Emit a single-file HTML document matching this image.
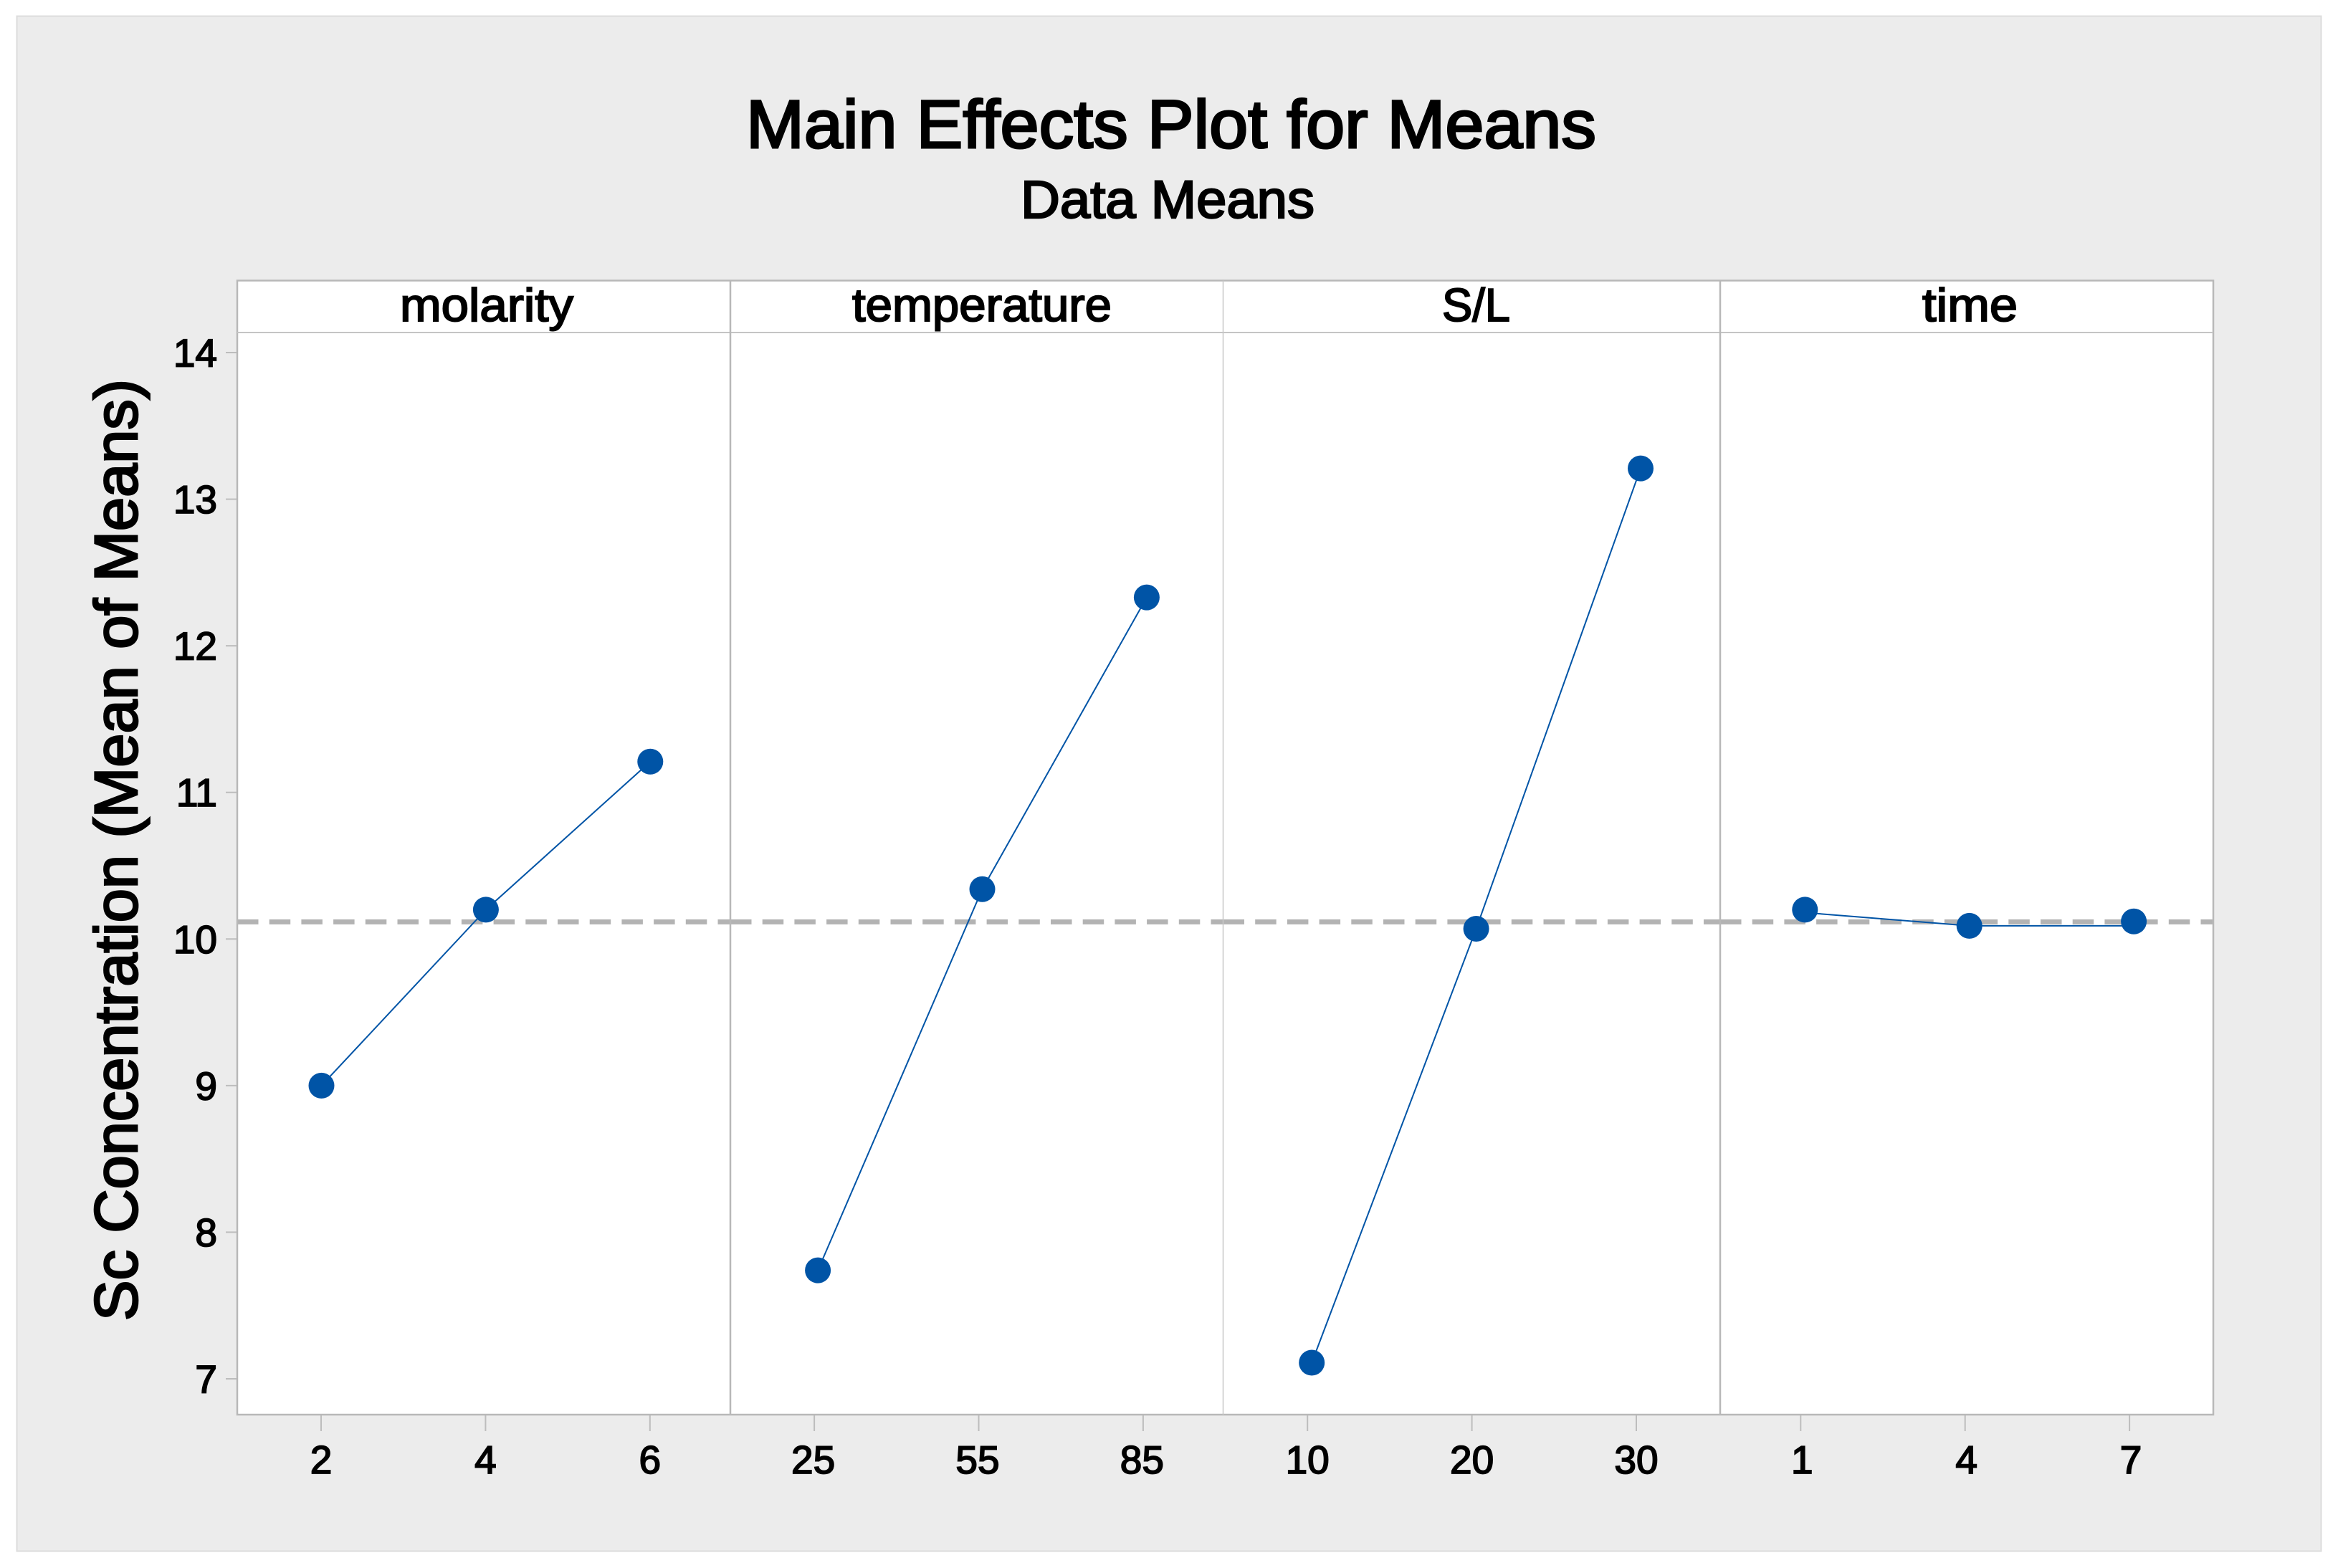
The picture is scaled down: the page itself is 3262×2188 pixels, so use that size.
<!DOCTYPE html>
<html lang="en">
<head>
<meta charset="utf-8">
<title>Main Effects Plot for Means</title>
<style>
html,body{margin:0;padding:0;background:#fff;}
svg{display:block;}
text{font-family:"Liberation Sans",Arial,sans-serif;fill:#000;stroke:#000;stroke-width:1.8;paint-order:stroke;}
#chart-title-text{stroke-width:3;}
#chart-subtitle-text{stroke-width:2.4;}
#y-title-text{stroke-width:2.8;}
#strips text{stroke-width:2;}
</style>
</head>
<body>
<svg id="chart" xmlns="http://www.w3.org/2000/svg" width="3262" height="2188" viewBox="0 0 3262 2188">
  <rect x="0" y="0" width="3262" height="2188" fill="#ffffff"/>
  <rect x="23.5" y="22.5" width="3215" height="2142" fill="#ececec" stroke="#dcdcdc" stroke-width="2"/>
  <rect x="331" y="391.5" width="2757" height="1582.5" fill="#ffffff"/>
  <text id="chart-title-text" x="1041" y="206" font-size="95" textLength="1186" lengthAdjust="spacingAndGlyphs">Main Effects Plot for Means</text>
  <text id="chart-subtitle-text" x="1424" y="304" font-size="74" textLength="410" lengthAdjust="spacingAndGlyphs">Data Means</text>
  <text id="y-title-text" transform="translate(191 1843) rotate(-90)" x="0" y="0" font-size="84" textLength="1314" lengthAdjust="spacingAndGlyphs">Sc Concentration (Mean of Means)</text>
  <g id="y-axis"></g>
  <g id="x-axis"></g>
  <g id="strips"></g>
  <g id="reference"></g>
  <g id="frame"></g>
  <g id="series"></g>
</svg>
<script>
// Data
const factorNames = ['molarity', 'temperature', 'S/L', 'time'];
const molarityLevels = ['2', '4', '6'];
const temperatureLevels = ['25', '55', '85'];
const solidLiquidLevels = ['10', '20', '30'];
const timeLevels = ['1', '4', '7'];
const molarityMeans = [9.0, 10.2, 11.21];
const temperatureMeans = [7.74, 10.34, 12.33];
const solidLiquidMeans = [7.11, 10.07, 13.21];
const timeMeans = [10.2, 10.09, 10.12];
const timeConnectingLine = [10.18, 10.09, 10.09];
const yTickValues = [7, 8, 9, 10, 11, 12, 13, 14];
const overallMean = 10.117;

const allLevels = [molarityLevels, temperatureLevels, solidLiquidLevels, timeLevels];
const allMeans = [molarityMeans, temperatureMeans, solidLiquidMeans, timeMeans];
const allLines = [molarityMeans, temperatureMeans, solidLiquidMeans, timeConnectingLine];

// Layout
const NS = 'http://www.w3.org/2000/svg';
const plotLeft = 331, plotRight = 3088, plotTop = 391.5, plotBottom = 1974, stripBottom = 464;
const dividers = [1019, 1706.5, 2400];
const panelEdges = [plotLeft].concat(dividers, [plotRight]);
const markerShift = [0.5, 5, 6, 6];
const labelShift = [0, -1.5, 0, 2];
const stripWidths = [242, 362, 95, 133];
const stripStarts = [558, 1189, 2012, 2682];

function yScale(v) { return 1924 - (v - 7) * 204.57; }
function tickX(panel, i) { return 448 + 688.1 * panel + 229.4 * i; }
function markX(panel, i) { return tickX(panel, i) + markerShift[panel]; }

function el(parent, tag, attrs, text) {
  const n = document.createElementNS(NS, tag);
  for (const k in attrs) n.setAttribute(k, attrs[k]);
  if (text !== undefined) n.textContent = text;
  parent.appendChild(n);
  return n;
}

const gY = document.getElementById('y-axis');
const gX = document.getElementById('x-axis');
const gStrips = document.getElementById('strips');
const gRef = document.getElementById('reference');
const gFrame = document.getElementById('frame');
const gSeries = document.getElementById('series');

// Y axis ticks and labels
yTickValues.forEach(function (v) {
  const y = yScale(v);
  const t = el(gY, 'line', { x1: 315, x2: plotLeft, y1: y, y2: y, stroke: '#bdbdbd', 'stroke-width': 2 });
  
  
  const l = el(gY, 'text', { x: 303, y: y + 19.5, 'font-size': 55, 'text-anchor': 'end' }, String(v));
  
  
});

// Frame
const frameRect = el(gFrame, 'rect', { x: plotLeft, y: plotTop, width: plotRight - plotLeft, height: plotBottom - plotTop, fill: 'none', stroke: '#b8b8b8', 'stroke-width': 2.5 });


const stripRule = el(gFrame, 'line', { x1: plotLeft, x2: plotRight, y1: stripBottom, y2: stripBottom, stroke: '#c4c4c4', 'stroke-width': 2 });


dividers.forEach(function (x, i) {
  const d = el(gFrame, 'line', { x1: x, x2: x, y1: plotTop, y2: plotBottom, stroke: i === 1 ? '#c8c8c8' : '#b8b8b8', 'stroke-width': i === 1 ? 1.5 : 2.5 });
  
  
});

factorNames.forEach(function (name, p) {
  // Strip label
  const s = el(gStrips, 'text', { x: stripStarts[p], y: 448, 'font-size': 65, textLength: stripWidths[p], lengthAdjust: 'spacingAndGlyphs' }, name);
  
  

  // Overall-mean dashed reference, restarted in every panel
  const yRef = yScale(overallMean);
  const r = el(gRef, 'line', { x1: panelEdges[p], x2: panelEdges[p + 1], y1: yRef, y2: yRef, stroke: '#b3b3b3', 'stroke-width': 7, 'stroke-dasharray': '29.5 15.2' });
  
  

  // X ticks and labels
  allLevels[p].forEach(function (lab, i) {
    const x = tickX(p, i);
    const t = el(gX, 'line', { x1: x, x2: x, y1: plotBottom, y2: 1997, stroke: '#bdbdbd', 'stroke-width': 2 });
    
    
    const l = el(gX, 'text', { x: x + labelShift[p], y: 2056, 'font-size': 55, 'text-anchor': 'middle' }, lab);
    
    
  });

  // Connecting line
  const pts = allLines[p].map(function (v, i) { return markX(p, i) + ',' + yScale(v); }).join(' ');
  const line = el(gSeries, 'polyline', { points: pts, fill: 'none', stroke: '#0054a6', 'stroke-width': 2 });
  
  

  // Markers
  allMeans[p].forEach(function (v, i) {
    const c = el(gSeries, 'circle', { cx: markX(p, i), cy: yScale(v), r: 18, fill: '#0054a6' });
    
    
  });
});
</script>
</body>
</html>
